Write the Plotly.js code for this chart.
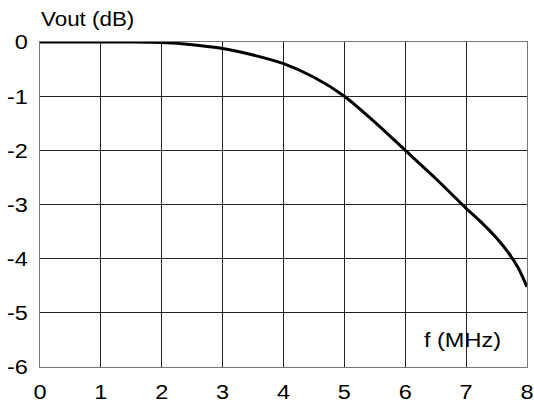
<!DOCTYPE html>
<html>
<head>
<meta charset="utf-8">
<script src="https://cdn.plot.ly/plotly-3.0.1.min.js"></script>
<style>html,body{margin:0;padding:0;background:#fff;}#chart{width:534px;height:407px;}</style>
</head>
<body>
<div id="chart"></div>
<script>
const freqMHz = [0, 0.5, 1, 1.5, 2, 2.5, 3, 3.5, 4, 4.5, 5, 5.5, 6, 6.5, 7, 7.25, 7.5, 7.7, 7.85, 8];
const voutDb = [0, 0, 0, 0, -0.01, -0.05, -0.12, -0.24, -0.4, -0.65, -1.0, -1.48, -2.0, -2.52, -3.07, -3.33, -3.62, -3.9, -4.16, -4.52];
const xTicks = [0, 1, 2, 3, 4, 5, 6, 7, 8];
const yTicks = [0, -1, -2, -3, -4, -5, -6];
const yTitle = "Vout (dB)";
const xTitle = "f (MHz)";

const fam = "Liberation Sans, Arial, sans-serif";
const tickFont = {family: fam, size: 21, color: "#000"};
const STRETCH = 1.12;

Plotly.newPlot("chart", [{
  x: freqMHz, y: voutDb, type: "scatter", mode: "lines",
  line: {color: "#000", width: 3, shape: "spline", smoothing: 0.8},
  hoverinfo: "none"
}], {
  width: 534, height: 407,
  margin: {l: 40, r: 7, t: 42, b: 40},
  paper_bgcolor: "#fff", plot_bgcolor: "#fff",
  showlegend: false,
  font: tickFont,
  xaxis: {
    range: [0, 8], tickvals: xTicks, ticktext: xTicks.map(String),
    showgrid: true, gridcolor: "#222", gridwidth: 1,
    zeroline: false, showline: true, linecolor: "#777", linewidth: 1, mirror: true,
    ticks: "", ticklen: 0, tickfont: tickFont, fixedrange: true, ticklabelstandoff: 6
  },
  yaxis: {
    range: [-6, 0], tickvals: yTicks, ticktext: yTicks.map(String),
    showgrid: true, gridcolor: "#222", gridwidth: 1,
    zeroline: false, showline: true, linecolor: "#777", linewidth: 1, mirror: true,
    ticks: "", ticklen: 0, tickfont: tickFont, fixedrange: true, ticklabelstandoff: 7
  },
  annotations: [
    {text: yTitle, xref: "paper", yref: "paper", x: 0, y: 1, xanchor: "left", yanchor: "bottom", align: "left", yshift: 10, xshift: -1, showarrow: false, font: {family: fam, size: 20, color: "#000"}},
    {text: xTitle, xref: "x", yref: "y", x: 6.28, y: -5.5, xanchor: "left", yanchor: "middle", align: "left", showarrow: false, font: {family: fam, size: 21, color: "#000"}}
  ]
}, {displayModeBar: false, staticPlot: true}).then(function (gd) {
  gd.querySelectorAll("svg text").forEach(function (t) {
    const b = t.getBBox();
    if (!b.width) return;
    const a = t.getAttribute("text-anchor") || getComputedStyle(t).textAnchor || "start";
    let cx = b.x + b.width / 2;
    if (a === "start") cx = b.x;
    else if (a === "end") cx = b.x + b.width;
    const prev = t.getAttribute("transform") || "";
    t.setAttribute("transform", prev + " translate(" + cx + ",0) scale(" + STRETCH + ",1) translate(" + (-cx) + ",0)");
  });
});
</script>
</body>
</html>
